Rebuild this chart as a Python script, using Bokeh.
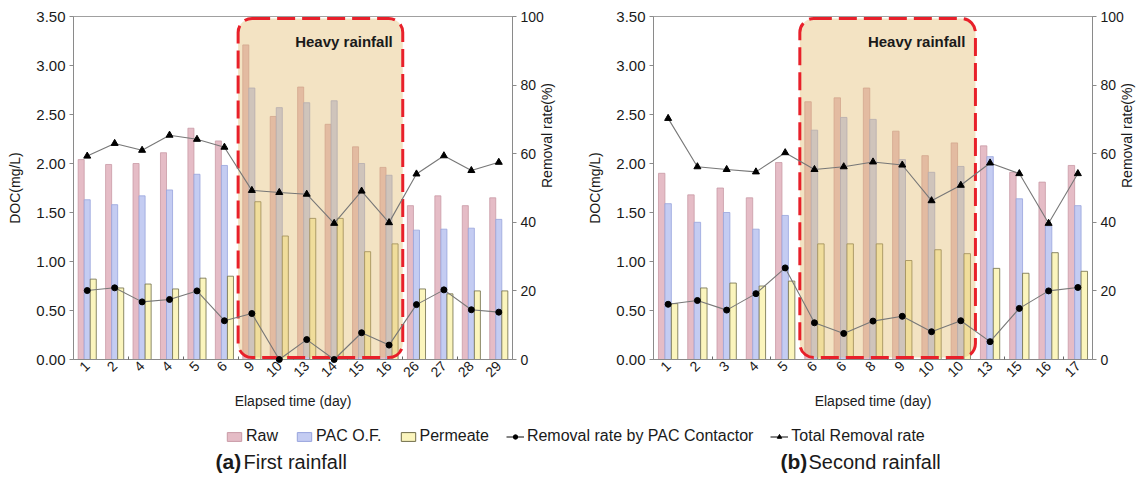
import math
import numpy as np
from bokeh.plotting import figure
from bokeh.models import (Range1d, LinearAxis, FixedTicker, NumeralTickFormatter,
                          BoxAnnotation, Label, Legend, LegendItem)
from bokeh.layouts import column, row
from bokeh.embed import file_html
from bokeh.resources import INLINE
from bokeh.core.properties import value

# ---------------- data ----------------
cats_a = ["1", "2", "4", "4", "5", "6", "9", "10", "13", "14", "15", "16", "26", "27", "28", "29"]
raw_a = [2.04, 1.99, 2.00, 2.11, 2.36, 2.23, 3.21, 2.48, 2.78, 2.40, 2.17, 1.96, 1.57, 1.67, 1.57, 1.65]
pac_a = [1.63, 1.58, 1.67, 1.73, 1.89, 1.98, 2.77, 2.57, 2.62, 2.64, 2.00, 1.88, 1.32, 1.33, 1.34, 1.43]
perm_a = [0.82, 0.73, 0.77, 0.72, 0.83, 0.85, 1.61, 1.26, 1.44, 1.44, 1.10, 1.18, 0.72, 0.67, 0.70, 0.70]
pacrem_a = [20.1, 20.9, 16.8, 17.5, 20.0, 11.3, 13.4, 0.0, 5.8, 0.0, 7.8, 4.2, 16.0, 20.3, 14.5, 13.8]
total_a = [59.3, 63.0, 61.0, 65.4, 64.2, 61.9, 49.3, 48.7, 48.2, 39.7, 49.1, 39.9, 54.1, 59.4, 55.1, 57.5]
heavy_a = (6, 11)   # first and last index of the heavy-rainfall period

cats_b = ["1", "2", "3", "4", "5", "6", "6", "8", "9", "10", "10", "13", "15", "16", "17"]
raw_b = [1.90, 1.68, 1.75, 1.65, 2.01, 2.63, 2.67, 2.77, 2.33, 2.08, 2.21, 2.18, 1.91, 1.81, 1.98]
pac_b = [1.59, 1.40, 1.50, 1.33, 1.47, 2.34, 2.47, 2.45, 2.04, 1.91, 1.97, 2.07, 1.64, 1.36, 1.57]
perm_b = [0.57, 0.73, 0.78, 0.75, 0.80, 1.18, 1.18, 1.18, 1.01, 1.12, 1.08, 0.93, 0.88, 1.09, 0.90]
pacrem_b = [16.1, 17.2, 14.4, 19.2, 26.7, 10.7, 7.6, 11.2, 12.6, 8.1, 11.3, 5.2, 14.9, 20.0, 21.0]
total_b = [70.3, 56.2, 55.4, 54.7, 60.3, 55.4, 56.2, 57.6, 56.7, 46.3, 50.8, 57.3, 54.2, 39.7, 54.2]
heavy_b = (5, 10)

doc_ticks = [0.0, 0.5, 1.0, 1.5, 2.0, 2.5, 3.0, 3.5]
pct_ticks = [0, 20, 40, 60, 80, 100]

# ---------------- style ----------------
FONT = "Liberation Sans"
RAW_FILL, RAW_LINE = "#e5bcc6", "#c99aa6"
PAC_FILL, PAC_LINE = "#c4ccf2", "#98a4dd"
PERM_FILL, PERM_LINE = "#fbf5bd", "#6f6c48"
LINE_COL = "#777777"
AXIS_COL = "#8a8a8a"
TXT = "#1a1a1a"
BW = 0.22


def make_chart(cats, raw, pac, perm, pacrem, total, heavy, width, bl, br):
    n = len(cats)
    xs = np.arange(n, dtype=float)
    p = figure(width=width, height=414, x_range=Range1d(-0.5, n - 0.5),
               y_range=Range1d(0, 3.5), output_backend="svg", toolbar_location=None,
               min_border_left=bl, min_border_right=br, min_border_top=16,
               min_border_bottom=55)
    p.extra_y_ranges = {"pct": Range1d(0, 100)}
    p.grid.visible = False
    p.outline_line_color = "#a0a0a0"
    p.background_fill_color = "white"

    p.vbar(x=xs - BW, top=raw, width=BW, bottom=0, fill_color=RAW_FILL, line_color=RAW_LINE, line_width=0.8)
    p.vbar(x=xs, top=pac, width=BW, bottom=0, fill_color=PAC_FILL, line_color=PAC_LINE, line_width=0.8)
    p.vbar(x=xs + BW, top=perm, width=BW, bottom=0, fill_color=PERM_FILL, line_color=PERM_LINE, line_width=0.8)

    box = BoxAnnotation(left=heavy[0] - 0.5, right=heavy[1] + 0.5, bottom=0.02, top=3.48,
                        fill_color="#e2ba6a", fill_alpha=0.40, line_color="#e8202a",
                        line_alpha=1.0, line_width=3, line_dash="18 7", border_radius=14)
    p.add_layout(box)
    p.add_layout(Label(x=heavy[1] + 0.5, y=3.33, x_offset=-10, text="Heavy rainfall",
                       text_align="right", text_baseline="top", text_font=FONT,
                       text_font_style="bold", text_font_size="15px", text_color=TXT))

    p.line(xs, pacrem, y_range_name="pct", line_color=LINE_COL, line_width=1.1, level="overlay")
    p.scatter(xs, pacrem, y_range_name="pct", marker="circle", size=6, fill_color="black",
              line_color="black", level="overlay")
    p.line(xs, total, y_range_name="pct", line_color=LINE_COL, line_width=1.1, level="overlay")
    p.scatter(xs, total, y_range_name="pct", marker="triangle", size=7, fill_color="black",
              line_color="black", level="overlay")

    # axes
    xa = p.xaxis[0]
    xa.ticker = FixedTicker(ticks=list(range(n)),
                            minor_ticks=list(np.arange(1.5, n - 1, 2.0)))
    xa.major_label_overrides = {i: c for i, c in enumerate(cats)}
    xa.major_label_orientation = math.pi / 4
    xa.major_tick_out = 0
    xa.major_tick_in = 0
    xa.minor_tick_in = 3
    xa.minor_tick_out = 0
    xa.minor_tick_line_color = "#666666"
    xa.axis_label = "Elapsed time (day)"
    xa.axis_label_standoff = 8
    xa.major_label_standoff = 4

    ya = p.yaxis[0]
    ya.ticker = FixedTicker(ticks=doc_ticks)
    ya.formatter = NumeralTickFormatter(format="0.00")
    ya.axis_label = "DOC(mg/L)"
    ya.axis_label_standoff = 10
    ya.major_label_standoff = 4
    ya.major_tick_out = 4
    ya.major_tick_in = 0
    ya.minor_tick_line_color = None

    ra = LinearAxis(y_range_name="pct", ticker=FixedTicker(ticks=pct_ticks),
                    axis_label="Removal rate(%)")
    ra.axis_label_standoff = 0
    ra.axis_label_orientation = math.pi / 2
    ra.major_label_standoff = 4
    ra.major_tick_out = 4
    ra.major_tick_in = 0
    ra.minor_tick_line_color = None
    p.add_layout(ra, "right")

    for ax in (xa, ya, ra):
        ax.axis_line_color = AXIS_COL
        ax.major_tick_line_color = AXIS_COL
        ax.major_label_text_font = FONT
        ax.major_label_text_color = TXT
        ax.axis_label_text_font = FONT
        ax.axis_label_text_font_style = "normal"
        ax.axis_label_text_font_size = "14px"
        ax.axis_label_text_color = TXT
    xa.major_label_text_font_size = "14px"
    ya.major_label_text_font_size = "15px"
    ra.major_label_text_font_size = "14px"
    return p


pa = make_chart(cats_a, raw_a, pac_a, perm_a, pacrem_a, total_a, heavy_a, 572, 73, 60)
pb = make_chart(cats_b, raw_b, pac_b, perm_b, pacrem_b, total_b, heavy_b, 573, 81, 53)

# ---------------- legend + captions ----------------
lg = figure(width=1145, height=66, x_range=Range1d(0, 1145), y_range=Range1d(66, 0),
            output_backend="svg", toolbar_location=None, min_border=0)
lg.axis.visible = False
lg.grid.visible = False
lg.outline_line_color = None

offx = [1.0e6]   # legend-only renderers, kept far out of view
offy = [1.0e6]
r1 = lg.vbar(x=offx, top=offy, bottom=offy, width=1, fill_color=RAW_FILL, line_color=RAW_LINE)
r2 = lg.vbar(x=offx, top=offy, bottom=offy, width=1, fill_color=PAC_FILL, line_color=PAC_LINE)
r3 = lg.vbar(x=offx, top=offy, bottom=offy, width=1, fill_color=PERM_FILL, line_color=PERM_LINE)
l4 = lg.line(x=offx, y=offy, line_color="#333333", line_width=1.2)
s4 = lg.scatter(x=offx, y=offy, marker="circle", size=6, fill_color="black", line_color="black")
l5 = lg.line(x=offx, y=offy, line_color="#333333", line_width=1.2)
s5 = lg.scatter(x=offx, y=offy, marker="triangle", size=7, fill_color="black", line_color="black")

legend = Legend(items=[
    LegendItem(label="Raw", renderers=[r1]),
    LegendItem(label="PAC O.F.", renderers=[r2]),
    LegendItem(label="Permeate", renderers=[r3]),
    LegendItem(label="Removal rate by PAC Contactor", renderers=[l4, s4]),
    LegendItem(label="Total Removal rate", renderers=[l5, s5]),
], orientation="horizontal", location=(225, 35), padding=0, margin=0, spacing=17,
    label_standoff=3, glyph_width=18, glyph_height=11, label_height=16,
    label_text_font=FONT, label_text_font_size="16px", label_text_color=TXT,
    border_line_color=None, background_fill_alpha=0)
lg.add_layout(legend, "center")

lg.text(x=[215], y=[47], text=["(a)"], text_font=value(FONT), text_font_style="bold",
        text_font_size="21px", text_baseline="middle", text_color=TXT)
lg.text(x=[243], y=[47], text=["First rainfall"], text_font=value(FONT),
        text_font_size="20px", text_baseline="middle", text_color=TXT)
lg.text(x=[780], y=[47], text=["(b)"], text_font=value(FONT), text_font_style="bold",
        text_font_size="21px", text_baseline="middle", text_color=TXT)
lg.text(x=[808], y=[47], text=["Second rainfall"], text_font=value(FONT),
        text_font_size="20px", text_baseline="middle", text_color=TXT)

layout = column(row(pa, pb), lg)
open("out.html", "w").write(file_html(layout, INLINE))
